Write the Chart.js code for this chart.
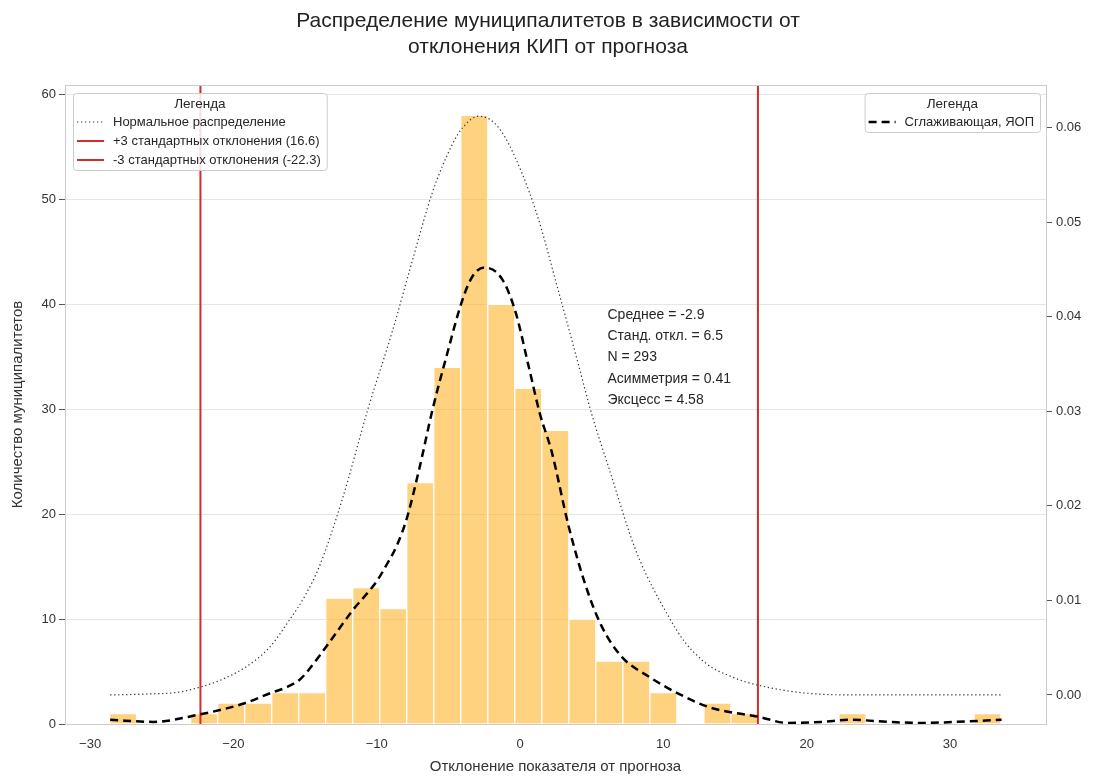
<!DOCTYPE html>
<html lang="ru">
<head>
<meta charset="utf-8">
<title>Распределение муниципалитетов</title>
<script src="https://cdn.jsdelivr.net/npm/chart.js@4.4.1/dist/chart.umd.min.js"></script>
<style>
  html, body { margin: 0; padding: 0; background: #fff; }
  #wrap { width: 1096px; height: 776px; }
</style>
</head>
<body>
<div id="wrap"><canvas id="chart" width="1096" height="776"></canvas></div>
<script>
// --- Histogram: 33 bins of equal width ---
const binStart = -28.64;
const binWidth = 1.885;
const binCounts = [1, 0, 0, 1, 2, 2, 3, 3, 12, 13, 11, 23, 34, 58, 40, 32, 28,
                   10, 6, 6, 3, 0, 2, 1, 0, 0, 0, 1, 0, 0, 0, 0, 1];

// --- Normal curve (density, right axis) ---
const normX = [-28.6, -26, -23.8, -22.4, -21, -19.1, -17.5, -16.1, -15.0, -14.0, -12.4, -10.6,
               -8.9, -7.5, -6.1, -4.7, -4.0, -2.9, -1.8, -0.8, 1.1, 2.7, 4.1, 5.0, 6.2,
               8.1, 10.4, 11.5, 12.7, 13.5, 14.5, 15.5, 16.7, 19.9, 24, 28, 33.6];
const normY = [0.0000, 0.0001, 0.0003, 0.0008, 0.0015, 0.0030, 0.0050, 0.0079, 0.0105, 0.0136, 0.0207, 0.0303,
               0.0385, 0.0460, 0.0532, 0.0583, 0.0600, 0.0612, 0.0605, 0.0583, 0.0512, 0.0426, 0.0348, 0.0297, 0.0240,
               0.0152, 0.0082, 0.0056, 0.0037, 0.0028, 0.0021, 0.0015, 0.0010, 0.0002, 0.0000, 0.0000, 0.0000];

// --- Smoothing KDE (in counts, left axis) ---
const kdeX = [-28.6, -25.6, -22.4, -19.4, -17.3, -16.3, -15.4, -14.9, -13.4, -11.7, -10.0, -9.3,
              -8.6, -7.9, -7.0, -6.1, -5.2, -4.0, -3.3, -2.5, -1.25, -0.3, 0.6, 1.4, 2.2, 3.4,
              4.6, 5.7, 7.1, 9.0, 10.9, 13.2, 16.6, 18.7, 21.0, 23.1, 25.7, 28.0, 30.4, 33.6];
const kdeY = [0.4, 0.2, 0.9, 1.9, 3.0, 3.5, 4.2, 4.9, 7.6, 10.8, 13.6, 15.2,
              17.0, 19.6, 24.5, 30.0, 34.7, 40.5, 42.7, 43.5, 42.4, 39.2, 34.1, 29.5, 26.0, 18.8,
              13.1, 9.3, 6.4, 4.5, 3.0, 1.6, 0.7, 0.1, 0.2, 0.4, 0.2, 0.1, 0.2, 0.4];

// --- ±3 sigma lines ---
const sigmaValues = [16.6, -22.3];
const sigmaLabels = ['+3 стандартных отклонения (16.6)', '-3 стандартных отклонения (-22.3)'];

// --- Stats block ---
const statsLines = ['Среднее = -2.9', 'Станд. откл. = 6.5', 'N = 293', 'Асимметрия = 0.41', 'Эксцесс = 4.58'];

// --- Axis ranges ---
const xMin = -31.75, xMax = 36.7;
const countMax = 60.9;
const densMin = -0.00307, densMax = 0.0645;

const FONT = "'Liberation Sans', Arial, sans-serif";
Chart.defaults.font.family = FONT;
Chart.defaults.color = '#333';

const minus = v => (v < 0 ? '\u2212' + Math.abs(v) : String(v));

// --- Datasets ---
const histData = binCounts.map((c, i) => ({ x: binStart + binWidth * (i + 0.5), y: c }));
const normData = normX.map((x, i) => ({ x, y: normY[i] }));
const kdeData  = kdeX.map((x, i) => ({ x, y: kdeY[i] }));

const datasets = [
  { type: 'bar', label: 'hist', data: histData, yAxisID: 'y',
    backgroundColor: 'rgba(255,165,0,0.5)', borderColor: '#fff', borderWidth: 1,
    barPercentage: 1, categoryPercentage: 1, order: 10 },
  { type: 'line', label: 'Нормальное распределение', data: normData, yAxisID: 'y2',
    borderColor: '#333', borderWidth: 1.2, borderDash: [1.3, 2.7], pointRadius: 0,
    cubicInterpolationMode: 'monotone', box: 'left', order: 3 }
];
sigmaValues.forEach((v, i) => {
  datasets.push({ type: 'line', label: sigmaLabels[i], data: [{ x: v, y: 0 }, { x: v, y: countMax }],
    yAxisID: 'y', borderColor: '#d42b2b', borderWidth: 2, pointRadius: 0, box: 'left', order: 2 });
});
datasets.push({ type: 'line', label: 'Сглаживающая, ЯОП', data: kdeData, yAxisID: 'y',
  borderColor: '#000', borderWidth: 2.5, borderDash: [8, 5], pointRadius: 0,
  cubicInterpolationMode: 'monotone', box: 'right', order: 1 });

// --- Plugins: frame, legend boxes, stats text ---
const framePlugin = {
  id: 'frame',
  afterDatasetsDraw(chart) {
    const { ctx, chartArea: a } = chart;
    ctx.save();
    ctx.strokeStyle = '#cccccc';
    ctx.lineWidth = 1;
    ctx.strokeRect(Math.round(a.left) + 0.5, Math.round(a.top) + 0.5,
                   Math.round(a.right - a.left), Math.round(a.bottom - a.top));
    ctx.restore();
  }
};

function drawLegendBox(chart, items, side) {
  const ctx = chart.ctx, a = chart.chartArea;
  ctx.save();
  ctx.font = '13px ' + FONT;
  const textW = Math.max(...items.map(d => ctx.measureText(d.label).width));
  const w = 40 + textW + 6;
  const h = 29 + (items.length - 1) * 19 + 10;
  const x = side === 'left' ? a.left + 8 : a.right - 6 - w;
  const y = a.top + 8;

  ctx.beginPath();
  ctx.roundRect(x + 0.5, y + 0.5, w, h, 3);
  ctx.fillStyle = 'rgba(255,255,255,0.85)';
  ctx.fill();
  ctx.strokeStyle = '#cccccc';
  ctx.lineWidth = 1;
  ctx.stroke();

  ctx.fillStyle = '#262626';
  ctx.textBaseline = 'middle';
  ctx.textAlign = 'center';
  ctx.font = '13.5px ' + FONT;
  ctx.fillText('Легенда', x + w / 2, y + 11);

  ctx.textAlign = 'left';
  ctx.font = '13px ' + FONT;
  items.forEach((d, i) => {
    const ly = y + 29 + i * 19;
    ctx.save();
    ctx.strokeStyle = d.borderColor;
    ctx.lineWidth = d.borderWidth;
    ctx.setLineDash(d.borderDash || []);
    ctx.beginPath();
    ctx.moveTo(x + 4, ly);
    ctx.lineTo(x + 31, ly);
    ctx.stroke();
    ctx.restore();
    ctx.fillText(d.label, x + 40, ly);
  });
  ctx.restore();
}

const legendBoxes = {
  id: 'legendBoxes',
  afterDatasetsDraw(chart) {
    const ds = chart.data.datasets;
    drawLegendBox(chart, ds.filter(d => d.box === 'left'), 'left');
    drawLegendBox(chart, ds.filter(d => d.box === 'right'), 'right');
  }
};

const statsText = {
  id: 'statsText',
  afterDatasetsDraw(chart) {
    const { ctx, chartArea: a } = chart;
    const x = a.left + 0.553 * (a.right - a.left);
    const y0 = a.top + 0.36 * (a.bottom - a.top);
    ctx.save();
    ctx.font = '14px ' + FONT;
    ctx.fillStyle = '#262626';
    ctx.textBaseline = 'middle';
    statsLines.forEach((t, i) => ctx.fillText(t, x, y0 + i * 21.3));
    ctx.restore();
  }
};

// --- Chart ---
const chart = new Chart(document.getElementById('chart').getContext('2d'), {
  data: { datasets },
  options: {
    responsive: false,
    animation: false,
    layout: { padding: 0 },
    plugins: {
      legend: { display: false },
      tooltip: { enabled: false },
      title: {
        display: true,
        text: ['Распределение муниципалитетов в зависимости от', 'отклонения КИП от прогноза'],
        font: { size: 21, weight: 'normal' },
        color: '#222',
        padding: { top: 9, bottom: 25.6 }
      }
    },
    scales: {
      x: {
        type: 'linear', min: xMin, max: xMax, offset: false,
        ticks: { stepSize: 10, includeBounds: false, padding: 13, font: { size: 13 }, callback: v => minus(v) },
        grid: { display: false, drawTicks: false, offset: false },
        border: { display: false },
        title: { display: true, text: 'Отклонение показателя от прогноза', font: { size: 15 }, padding: { top: 4, bottom: 0 } },
        afterFit: s => { s.height = 52; }
      },
      y: {
        position: 'left', min: 0, max: countMax,
        ticks: { stepSize: 10, includeBounds: false, padding: 3, font: { size: 13 } },
        grid: { color: '#e6e6e6', tickColor: '#555', tickLength: 6 },
        border: { display: false },
        title: { display: true, text: 'Количество муниципалитетов', font: { size: 15 }, padding: { top: 9, bottom: 0 } },
        afterFit: s => { s.width = 65; }
      },
      y2: {
        position: 'right', min: densMin, max: densMax,
        ticks: { stepSize: 0.01, includeBounds: false, padding: 4, font: { size: 13 }, callback: v => v.toFixed(2) },
        grid: { drawOnChartArea: false, tickColor: '#555', tickLength: 6 },
        border: { display: false },
        afterFit: s => { s.width = 50; }
      }
    }
  },
  plugins: [framePlugin, legendBoxes, statsText]
});
</script>
</body>
</html>
